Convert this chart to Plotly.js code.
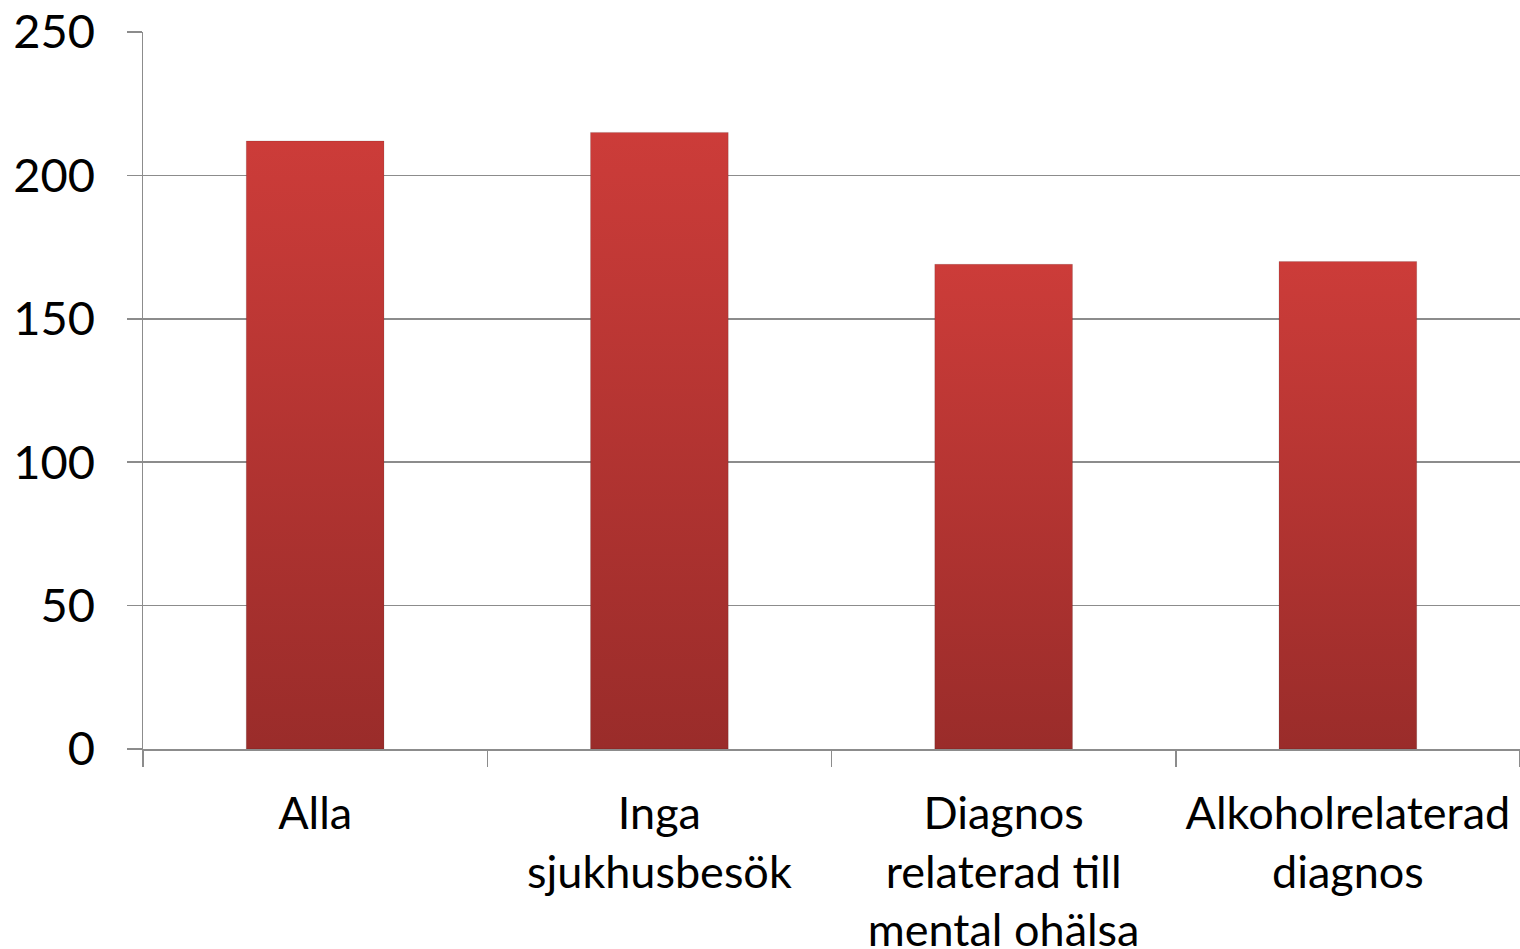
<!DOCTYPE html>
<html>
<head>
<meta charset="utf-8">
<script src="https://cdn.plot.ly/plotly-3.0.1.min.js"></script>
<style>
html, body { margin: 0; padding: 0; background: #fff; }
#chart { width: 1520px; height: 949px; }
</style>
</head>
<body>
<div id="chart"></div>
<script>
var categories = ["Alla", "Inga<br>sjukhusbesök", "Diagnos<br>relaterad till<br>mental ohälsa", "Alkoholrelaterad<br>diagnos"];
var values = [212, 215, 169, 170];
var yTicks = [0, 50, 100, 150, 200, 250];

var trace = {
  type: "bar",
  x: categories,
  y: values,
  width: 0.4,
  marker: { color: "#b43431", line: { color: "rgba(0,0,0,0.12)", width: 1 } },
  hoverinfo: "none"
};

var layout = {
  width: 1520,
  height: 949,
  margin: { l: 143, r: 0, t: 32, b: 200, pad: 0 },
  paper_bgcolor: "#ffffff",
  plot_bgcolor: "#ffffff",
  showlegend: false,
  font: { family: "Lato, 'Open Sans', sans-serif", size: 45, color: "#000000" },
  bargap: 0.6,
  xaxis: {
    type: "category",
    showgrid: false,
    showline: true,
    linecolor: "#8c8c8c",
    linewidth: 2,
    ticks: "outside",
    tickson: "boundaries",
    ticklen: 16,
    tickwidth: 1.5,
    tickcolor: "#8c8c8c",
    ticklabelstandoff: 24,
    tickfont: { family: "Lato, 'Open Sans', sans-serif", size: 45, color: "#000000" },
    fixedrange: true
  },
  yaxis: {
    range: [0, 250],
    tickvals: yTicks,
    ticktext: yTicks.map(String),
    showgrid: true,
    gridcolor: "#8c8c8c",
    gridwidth: 1.5,
    zeroline: false,
    showline: true,
    linecolor: "#8c8c8c",
    linewidth: 1.5,
    ticks: "outside",
    ticklen: 15,
    tickwidth: 1.5,
    tickcolor: "#8c8c8c",
    ticklabelstandoff: 22,
    tickfont: { family: "Lato, 'Open Sans', sans-serif", size: 47, color: "#000000" },
    fixedrange: true
  }
};

Plotly.newPlot("chart", [trace], layout, { staticPlot: true, displayModeBar: false }).then(function (gd) {
  var svg = gd.querySelector("svg.main-svg");
  var ns = "http://www.w3.org/2000/svg";
  var defs = svg.querySelector("defs") || svg.insertBefore(document.createElementNS(ns, "defs"), svg.firstChild);
  var grad = document.createElementNS(ns, "linearGradient");
  grad.setAttribute("id", "barGrad");
  grad.setAttribute("x1", "0"); grad.setAttribute("y1", "0");
  grad.setAttribute("x2", "0"); grad.setAttribute("y2", "1");
  var s1 = document.createElementNS(ns, "stop");
  s1.setAttribute("offset", "0"); s1.setAttribute("stop-color", "#cc3c39");
  var s2 = document.createElementNS(ns, "stop");
  s2.setAttribute("offset", "1"); s2.setAttribute("stop-color", "#9a2c2a");
  grad.appendChild(s1); grad.appendChild(s2);
  defs.appendChild(grad);
  gd.querySelectorAll(".trace.bars .point path").forEach(function (p) {
    p.style.fill = "url(#barGrad)";
  });
});
</script>
</body>
</html>
